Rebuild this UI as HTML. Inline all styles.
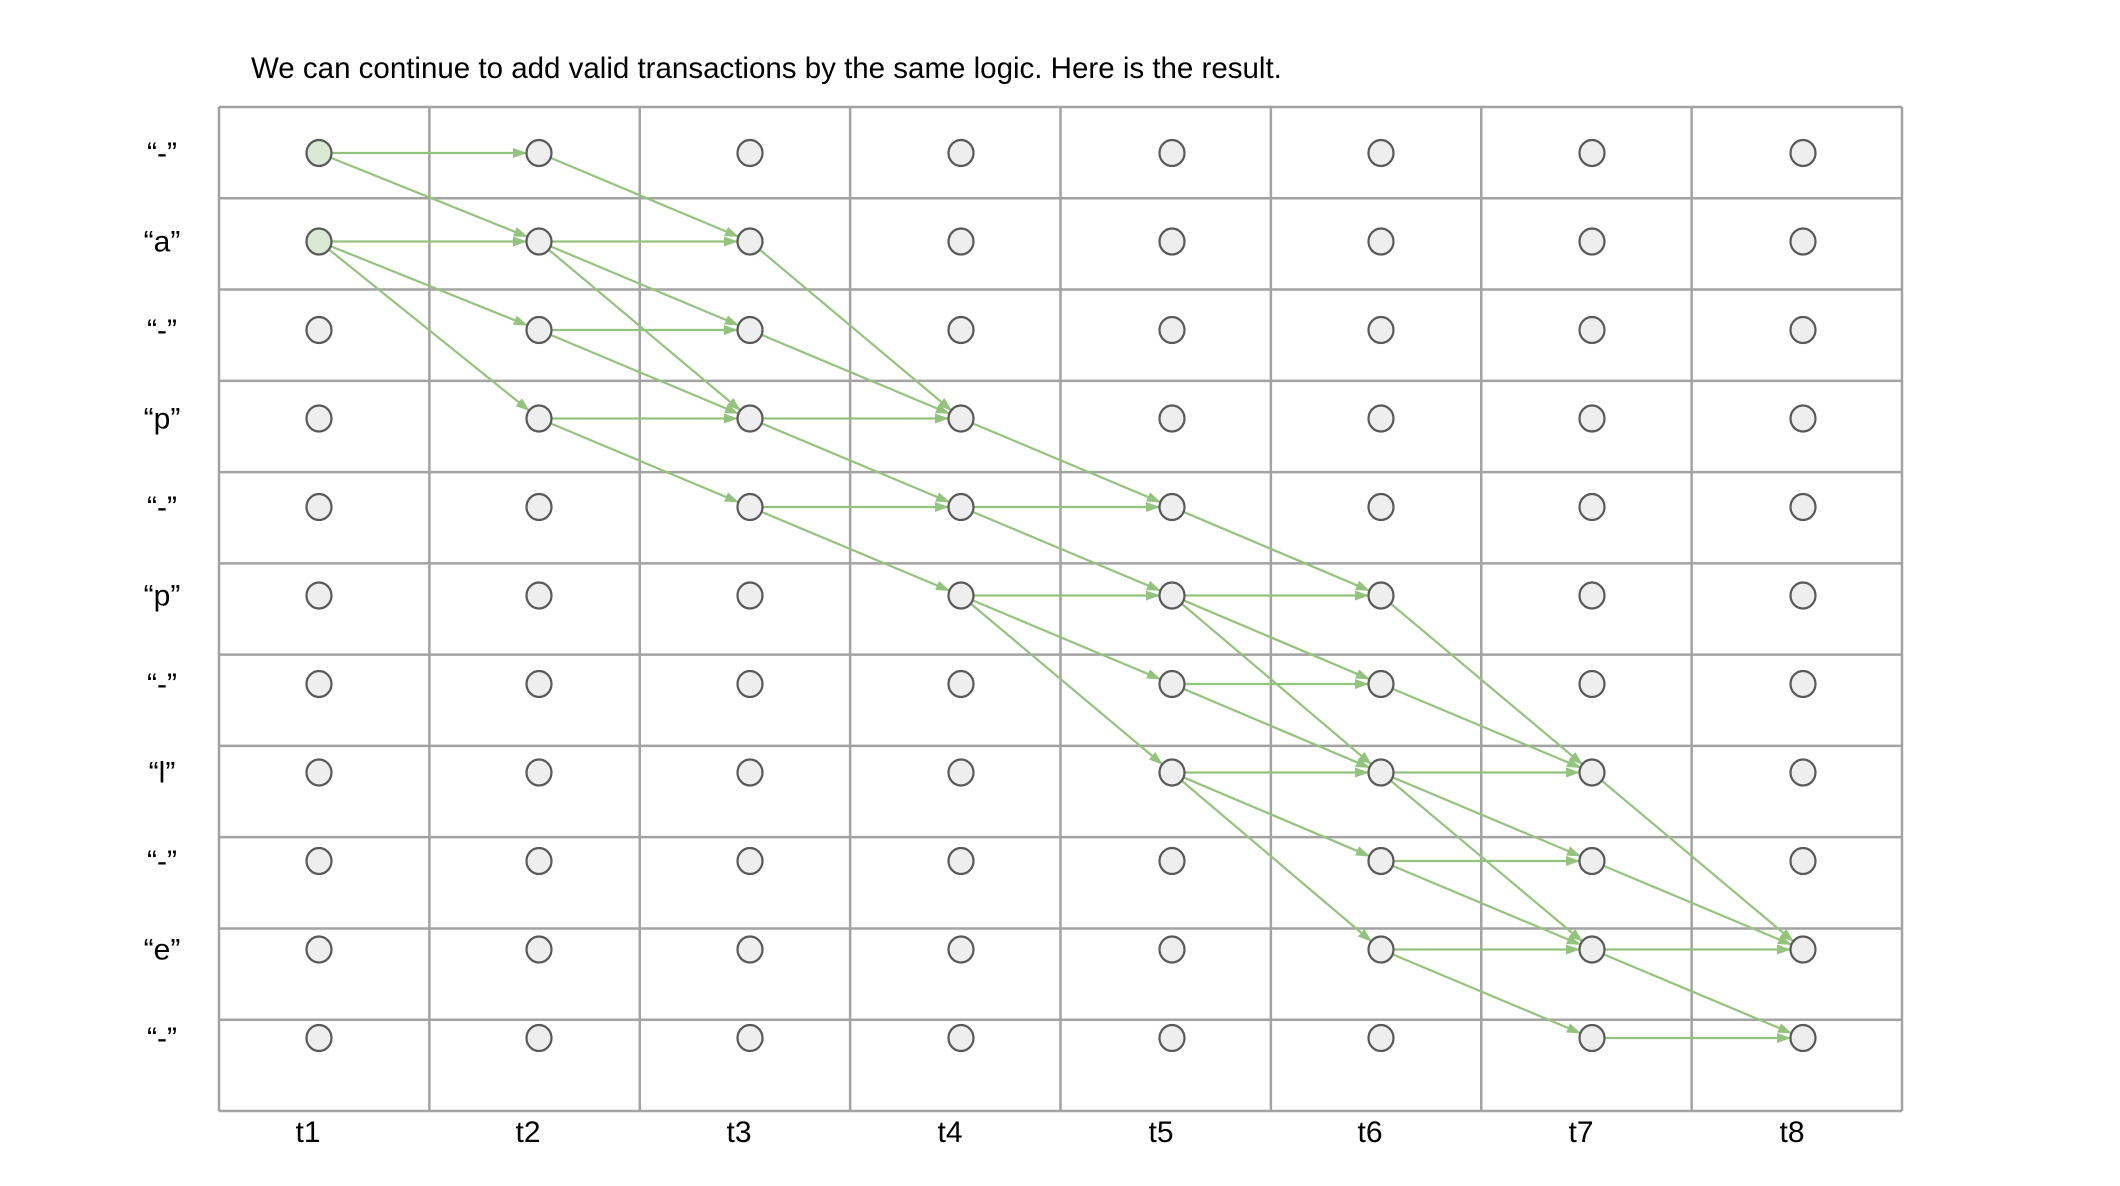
<!DOCTYPE html>
<html><head><meta charset="utf-8"><style>
html,body{margin:0;padding:0;background:#fff;}
svg{display:block;font-family:"Liberation Sans",sans-serif;}
</style></head><body>
<svg id="chart" width="2120" height="1186" viewBox="0 0 2120 1186">
<defs><marker id="ah" markerWidth="14" markerHeight="10" refX="13" refY="5" orient="auto" markerUnits="userSpaceOnUse"><path d="M0,0 L14,5 L0,10 Z" fill="#93c47d"/></marker></defs>
<text x="251" y="78" font-size="29.5" fill="#000">We can continue to add valid transactions by the same logic. Here is the result.</text>
<g id="grid"></g><g id="edges"></g><g id="nodes"></g><g id="labels"></g>
</svg>
<script>
const timeLabels = ["t1","t2","t3","t4","t5","t6","t7","t8"];
const rowLabels = ["“-”","“a”","“-”","“p”","“-”","“p”","“-”","“l”","“-”","“e”","“-”"];
const edgeFrom = [[0,0],[0,0],[0,1],[0,1],[0,1],
[1,0],[1,1],[1,1],[1,1],[1,2],[1,2],[1,3],[1,3],
[2,1],[2,2],[2,3],[2,3],[2,4],[2,4],
[3,3],[3,4],[3,4],[3,5],[3,5],[3,5],
[4,4],[4,5],[4,5],[4,5],[4,6],[4,6],[4,7],[4,7],[4,7],
[5,5],[5,6],[5,7],[5,7],[5,7],[5,8],[5,8],[5,9],[5,9],
[6,7],[6,8],[6,9],[6,9],[6,10]];
const edgeToRow = [0,1,1,2,3,
1,1,2,3,2,3,3,4,
3,3,3,4,4,5,
4,4,5,5,6,7,
5,5,6,7,6,7,7,8,9,
7,7,7,8,9,8,9,9,10,
9,9,9,10,10];
const activeNodes = [[0,0],[0,1]];
const NS="http://www.w3.org/2000/svg";
const gl=219,gr=1902,gt=107,gb=1111;
const nodeXs=[319,539,750,961,1172,1381,1592,1803];
function xCol(c){return nodeXs[c];}
function yRow(r){return 153+r*88.5;}
function mk(tag,attrs,parent){const e=document.createElementNS(NS,tag);for(const k in attrs)e.setAttribute(k,attrs[k]);parent.appendChild(e);return e;}
const G=document.getElementById('grid'),E=document.getElementById('edges'),N=document.getElementById('nodes'),L=document.getElementById('labels');
const cw=(gr-gl)/timeLabels.length, rh=(gb-gt)/rowLabels.length;
for(let i=0;i<=timeLabels.length;i++){const l=mk('line',{x1:gl+i*cw,x2:gl+i*cw,y1:gt,y2:gb,stroke:'#a3a3a3','stroke-width':2.5},G);

}
for(let j=0;j<=rowLabels.length;j++){const l=mk('line',{x1:gl,x2:gr,y1:gt+j*rh,y2:gt+j*rh,stroke:'#a3a3a3','stroke-width':2.5},G);

}
const R=13;
edgeFrom.forEach((f,i)=>{const x1=xCol(f[0]),y1=yRow(f[1]),x2=xCol(f[0]+1),y2=yRow(edgeToRow[i]);
const dx=x2-x1,dy=y2-y1,d=Math.hypot(dx,dy),ux=dx/d,uy=dy/d;
const l=mk('line',{x1:x1+ux*R,y1:y1+uy*R,x2:x2-ux*R,y2:y2-uy*R,stroke:'#93c47d','stroke-width':2.2,'marker-end':'url(#ah)'},E);

});
timeLabels.forEach((t,c)=>{rowLabels.forEach((r,j)=>{const act=activeNodes.some(a=>a[0]==c&&a[1]==j);
const e=mk('ellipse',{cx:xCol(c),cy:yRow(j),rx:12.5,ry:13,fill:act?'#d9ead3':'#eeeeee',stroke:'#595959','stroke-width':2.2},N);

});
const tl=mk('text',{x:xCol(c)-11,y:1142,'font-size':30,'text-anchor':'middle'},L);tl.textContent=t;

});
rowLabels.forEach((r,j)=>{const t=mk('text',{x:162,y:yRow(j)+10,'font-size':30,'text-anchor':'middle'},L);t.textContent=r;

});
</script>
</body></html>
